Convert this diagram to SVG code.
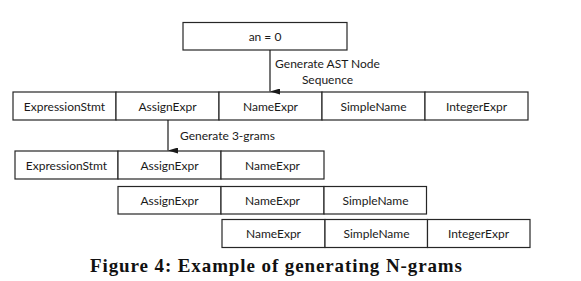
<svg xmlns="http://www.w3.org/2000/svg" width="581" height="281" viewBox="0 0 581 281">
  <style>
    .box rect { fill: #ffffff; stroke: #262626; stroke-width: 1.2; }
    .box text { font-family: Lato, "Liberation Sans", sans-serif; font-size: 12px; fill: #1a1a1a; text-anchor: middle; dominant-baseline: central; }
    .lbl { font-family: Lato, "Liberation Sans", sans-serif; font-size: 12px; fill: #1a1a1a; }
    .edge { stroke: #1a1a1a; stroke-width: 1.2; fill: none; }
    .caption { font-family: "Liberation Serif", serif; font-weight: bold; font-size: 19px; fill: #111; }
  </style>
  <defs>
    <marker id="arrow" viewBox="0 0 6 10" refX="3" refY="10" markerWidth="6" markerHeight="10" markerUnits="userSpaceOnUse" orient="auto-start-reverse">
      <path d="M0,0 L6,0 L3,10 Z" fill="#1a1a1a"/>
    </marker>
  </defs>

  <rect width="581" height="281" fill="#ffffff"/>

  <!-- source statement -->
  <g id="stmt" class="box">
    <rect x="183" y="22.5" width="164" height="27.5"/>
    <text x="265" y="36.5">an = 0</text>
  </g>

  <!-- full AST node sequence -->
  <g id="seq" class="box">
    <rect x="13" y="92" width="103" height="28"/>
    <text x="64.5" y="106">ExpressionStmt</text>
    <rect x="116" y="92" width="103" height="28"/>
    <text x="167.5" y="106">AssignExpr</text>
    <rect x="219" y="92" width="103" height="28"/>
    <text x="270.5" y="106">NameExpr</text>
    <rect x="322" y="92" width="103" height="28"/>
    <text x="373.5" y="106">SimpleName</text>
    <rect x="425" y="92" width="103" height="28"/>
    <text x="476.5" y="106">IntegerExpr</text>
  </g>

  <!-- 3-gram 1 -->
  <g id="gram1" class="box">
    <rect x="15" y="151" width="103" height="28"/>
    <text x="66.5" y="165">ExpressionStmt</text>
    <rect x="118" y="151" width="103" height="28"/>
    <text x="169.5" y="165">AssignExpr</text>
    <rect x="221" y="151" width="103" height="28"/>
    <text x="272.5" y="165">NameExpr</text>
  </g>

  <!-- 3-gram 2 -->
  <g id="gram2" class="box">
    <rect x="118" y="186.5" width="103" height="27.5"/>
    <text x="169.5" y="200.5">AssignExpr</text>
    <rect x="221" y="186.5" width="103" height="27.5"/>
    <text x="272.5" y="200.5">NameExpr</text>
    <rect x="324" y="186.5" width="102.5" height="27.5"/>
    <text x="375.5" y="200.5">SimpleName</text>
  </g>

  <!-- 3-gram 3 -->
  <g id="gram3" class="box">
    <rect x="222" y="219.5" width="103" height="28"/>
    <text x="273.5" y="233.5">NameExpr</text>
    <rect x="325" y="219.5" width="102.5" height="28"/>
    <text x="376.5" y="233.5">SimpleName</text>
    <rect x="427.5" y="219.5" width="102.5" height="28"/>
    <text x="478.5" y="233.5">IntegerExpr</text>
  </g>

  <!-- connectors -->
  <g id="connectors">
    <line class="edge" x1="270" y1="50" x2="270" y2="91.5" marker-end="url(#arrow)"/>
    <text class="lbl" x="327.5" y="67.5" text-anchor="middle">Generate AST Node</text>
    <text class="lbl" x="327.5" y="83.5" text-anchor="middle">Sequence</text>
    <line class="edge" x1="168" y1="120" x2="168" y2="150.5" marker-end="url(#arrow)"/>
    <text class="lbl" x="180" y="140">Generate 3-grams</text>
  </g>

  <text class="caption" x="90" y="272" textLength="372" lengthAdjust="spacing">Figure 4: Example of generating N-grams</text>
</svg>
